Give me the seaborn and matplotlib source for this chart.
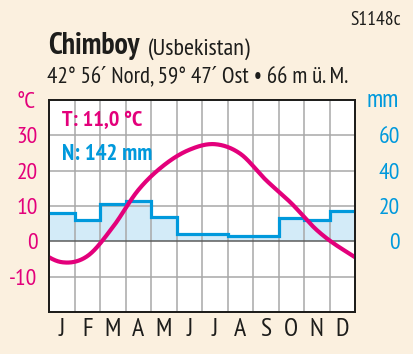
import numpy as np
import pandas as pd
import matplotlib
matplotlib.use("Agg")
import matplotlib.pyplot as plt
import seaborn as sns
from matplotlib import font_manager

# ---------------- data ----------------
months = ["J", "F", "M", "A", "M", "J", "J", "A", "S", "O", "N", "D"]
temperature = [-5.9, -4.2, 4.0, 14.5, 21.5, 25.9, 27.5, 24.8, 17.4, 10.8, 3.2, -2.2]
precipitation = [16, 12, 21, 23, 14, 4, 4, 3, 3, 13, 12, 17]
temp_ticks = [-10, 0, 10, 20, 30]
precip_ticks = [0, 20, 40, 60]
code = "S1148c"
station = "Chimboy"
country = "(Usbekistan)"
coords = "42° 56′ Nord, 59° 47′ Ost • 66 m ü. M."
t_label = "T: 11,0 °C"
n_label = "N: 142 mm"

# ---------------- style ----------------
BG = "#fbf0df"
MAGENTA = "#e3007b"
BLUE = "#0099dc"
FILL = "#d3ebf8"
GRID = "#a8a8a8"
ZERO = "#5c5c5c"
DARK = "#1d1d1b"

sns.set_theme(style="white")
names = {f.name for f in font_manager.fontManager.ttflist}
cands = ["PT Sans Narrow", "Roboto Condensed", "Archivo Narrow", "Asap Condensed"]
narrow = next((c for c in cands if c in names), "DejaVu Sans")
plt.rcParams["font.family"] = [narrow, "DejaVu Sans"]


def smooth(values, n=40):
    y = np.asarray(values, float)
    k = len(y)
    m = (np.roll(y, -1) - np.roll(y, 1)) / 2.0
    xs = np.linspace(-0.5, k - 0.5, k * n + 1)
    i = np.floor(xs).astype(int)
    t = xs - i
    i0 = i % k
    i1 = (i + 1) % k
    h00 = 2 * t**3 - 3 * t**2 + 1
    h10 = t**3 - 2 * t**2 + t
    h01 = -2 * t**3 + 3 * t**2
    h11 = t**3 - t**2
    return xs, h00 * y[i0] + h10 * m[i0] + h01 * y[i1] + h11 * m[i1]


W, H = 413, 354
fig = plt.figure(figsize=(W / 100, H / 100), dpi=100, facecolor=BG)
ax = fig.add_axes([49 / W, 1 - 312 / H, (355 - 49) / W, (312 - 100) / H])
ax.set_facecolor("white")

idx = np.arange(len(months))
edges = np.arange(len(months) + 1) - 0.5

df_p = pd.DataFrame({"month": idx, "mm": precipitation})
sns.barplot(data=df_p, x="month", y="mm", width=1.0, color=FILL, saturation=1,
            linewidth=0, errorbar=None, ax=ax, zorder=1)
df_s = pd.DataFrame({"x": edges, "mm": np.append(precipitation, precipitation[-1])})
sns.lineplot(data=df_s, x="x", y="mm", drawstyle="steps-post", color=BLUE,
             linewidth=2.3, solid_joinstyle="miter", ax=ax, zorder=3)

ax.set_xlim(-0.5, len(months) - 0.5)
ax.set_ylim(-40, 80)
ax.set_xlabel("")
ax.set_ylabel("")
ax.set_xticks(idx)
ax.set_xticklabels(months)
ax.set_xticks(edges[1:-1], minor=True)
ax.set_yticks([-20] + precip_ticks)
ax.set_yticklabels([""] + [str(v) for v in precip_ticks])
ax.set_axisbelow("line")
ax.grid(False)
ax.grid(True, which="minor", axis="x", color=GRID, linewidth=1.1)
ax.grid(True, which="major", axis="y", color=GRID, linewidth=1.1)
for tick, val in zip(ax.yaxis.get_major_ticks(), [-20] + precip_ticks):
    if val == 0:
        tick.gridline.set_color(ZERO)

ax2 = ax.twinx()
xs, ys = smooth(temperature)
sns.lineplot(x=xs, y=ys, color=MAGENTA, linewidth=3.0, ax=ax2, sort=False,
             estimator=None, solid_capstyle="butt")
ax2.set_ylim(-20, 40)
ax2.set_yticks(temp_ticks)
ax2.set_yticklabels([str(v) for v in temp_ticks])
ax2.set_ylabel("")
ax2.grid(False)

ax.yaxis.tick_right()
ax2.yaxis.tick_left()
ax.tick_params(axis="x", which="both", length=0, pad=4, labelsize=18.5, labelcolor=DARK)
ax.tick_params(axis="y", which="both", length=0, pad=32.4, labelsize=17, labelcolor=BLUE)
for lab in ax.get_yticklabels():
    lab.set_horizontalalignment("right")
ax2.tick_params(axis="y", length=0, pad=8.2, labelsize=17, labelcolor=MAGENTA)

for a in (ax, ax2):
    for s in a.spines.values():
        s.set_color(DARK)
        s.set_linewidth(1.3)

fig.text(401 / W, 1 - 25 / H, code, ha="right", va="baseline", fontsize=14, color=DARK)
fig.text(48 / W, 1 - 54.5 / H, station, ha="left", va="baseline", fontsize=21.5,
         fontweight="bold", color=DARK)
fig.text(148 / W, 1 - 54.5 / H, country, ha="left", va="baseline", fontsize=17.5, color=DARK)
fig.text(47 / W, 1 - 82.5 / H, coords, ha="left", va="baseline", fontsize=16.6, color=DARK)
fig.text(36 / W, 1 - 108 / H, "°C", ha="right", va="baseline", fontsize=17, color=MAGENTA)
fig.text(366 / W, 1 - 107 / H, "mm", ha="left", va="baseline", fontsize=18, color=BLUE)
fig.text(62.5 / W, 1 - 126 / H, t_label, ha="left", va="baseline", fontsize=16,
         fontweight="bold", color=MAGENTA)
fig.text(62.5 / W, 1 - 160.5 / H, n_label, ha="left", va="baseline", fontsize=16.5,
         fontweight="bold", color=BLUE)

fig.savefig("out.png", dpi=100, facecolor=BG)
